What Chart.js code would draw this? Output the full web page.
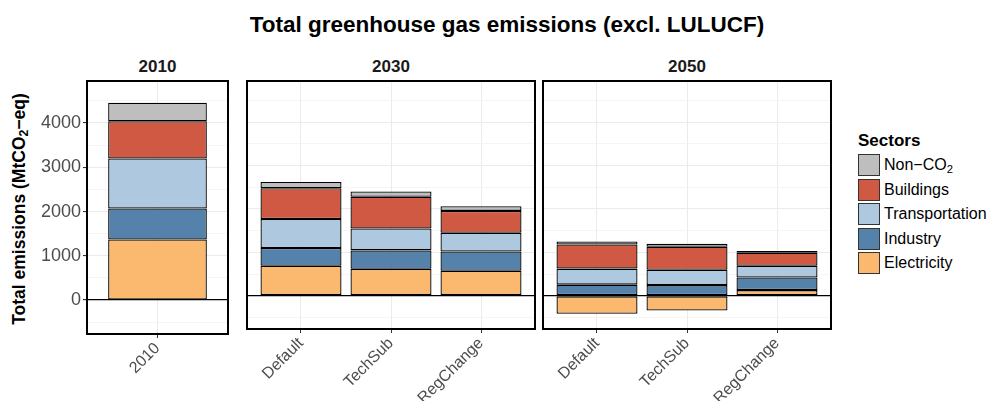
<!DOCTYPE html>
<html>
<head>
<meta charset="utf-8">
<script src="https://cdn.jsdelivr.net/npm/chart.js@4.4.1/dist/chart.umd.min.js"></script>
<style>
  body { margin: 0; background: #fff; font-family: "Liberation Sans", Arial, sans-serif; }
  #wrap { position: relative; width: 992px; height: 401px; overflow: hidden; }
  .box { position: absolute; }
  .title { position: absolute; left: 0; width: 1014px; top: 12px; text-align: center; font-weight: bold; font-size: 22.5px; color: #000; }
  .strip { position: absolute; top: 57px; font-weight: bold; font-size: 17px; color: #1a1a1a; text-align: center; }
  .ytitle { position: absolute; left: 19px; top: 209px; transform: translate(-50%, -50%) rotate(-90deg); white-space: nowrap; font-weight: bold; font-size: 17.5px; }
  .legend { position: absolute; left: 858px; top: 131px; font-size: 16px; }
  .legend .lt { font-weight: bold; font-size: 17px; margin-bottom: 2px; }
  .legend .row { height: 24.5px; display: flex; align-items: center; }
  .legend .key { width: 20px; height: 20px; border: 1px solid #333; margin-right: 4px; }
  sub { font-size: 70%; vertical-align: -3px; line-height: 0; }
</style>
</head>
<body>
<div id="wrap">
  <div class="title">Total greenhouse gas emissions (excl. LULUCF)</div>
  <div class="strip" style="left:87px;width:141px">2010</div>
  <div class="strip" style="left:247px;width:288px">2030</div>
  <div class="strip" style="left:543px;width:288px">2050</div>
  <div class="ytitle">Total emissions (MtCO<sub>2</sub>−eq)</div>
  <div class="box" style="left:30px;top:76px;width:202px;height:325px"><canvas id="c2010"></canvas></div>
  <div class="box" style="left:243px;top:76px;width:296px;height:325px"><canvas id="c2030"></canvas></div>
  <div class="box" style="left:539px;top:76px;width:296px;height:325px"><canvas id="c2050"></canvas></div>
  <div class="legend" id="legend"><div class="lt">Sectors</div></div>
</div>
<script>
// sectors, stacked bottom to top
const sectors = ["Electricity", "Industry", "Transportation", "Buildings", "Non-CO2"];
const sectorColors = ["#FBB86F", "#5582AA", "#ADC8DF", "#CF5942", "#BEBEBE"];

const cats2010 = ["2010"];
const vals2010 = {
  "Electricity": [1370],
  "Industry": [700],
  "Transportation": [1130],
  "Buildings": [840],
  "Non-CO2": [420]
};

const scenarios = ["Default", "TechSub", "RegChange"];
const vals2030 = {
  "Electricity": [690, 620, 575],
  "Industry": [410, 425, 445],
  "Transportation": [670, 505, 430],
  "Buildings": [710, 730, 505],
  "Non-CO2": [140, 125, 110]
};
const vals2050 = {
  "Electricity": [-415, -340, 130],
  "Industry": [255, 245, 290],
  "Transportation": [370, 355, 270],
  "Buildings": [555, 530, 300],
  "Non-CO2": [70, 70, 40]
};

const yTicks = [0, 1000, 2000, 3000, 4000];
const yMinor = [-500, 500, 1500, 2500, 3500, 4500];
const yMin = -767, yMax = 4950;

// legend (top to bottom is reverse stack order)
const legendNames = { "Non-CO2": "Non−CO<sub>2</sub>" };
const lg = document.getElementById("legend");
for (let i = sectors.length - 1; i >= 0; i--) {
  const r = document.createElement("div");
  r.className = "row";
  r.innerHTML = '<div class="key" style="background:' + sectorColors[i] + '"></div><span>' +
    (legendNames[sectors[i]] || sectors[i]) + '</span>';
  lg.appendChild(r);
}

const frame = {
  id: "frame",
  afterDraw(chart) {
    const a = chart.chartArea, ctx = chart.ctx;
    ctx.save();
    ctx.strokeStyle = "#000";
    ctx.lineWidth = 2;
    ctx.strokeRect(a.left, a.top, a.right - a.left, a.bottom - a.top);
    ctx.restore();
  }
};

const isMajor = v => yTicks.includes(v);
const noPad = s => { s.paddingTop = 0; s.paddingBottom = 0; s.paddingLeft = 0; s.paddingRight = 0; };

function makePanel(id, cats, vals, showY, xHeight, barPct) {
  const datasets = sectors.map((s, i) => ({
    label: s,
    data: vals[s].map((v, j) => ({ x: j + 1, y: v })),
    backgroundColor: sectorColors[i],
    borderColor: "#000",
    borderWidth: 1.3,
    borderSkipped: false,
    barPercentage: barPct,
    categoryPercentage: 1
  }));
  const n = cats.length;
  return new Chart(document.getElementById(id), {
    type: "bar",
    data: { datasets },
    plugins: [frame],
    options: {
      responsive: true,
      maintainAspectRatio: false,
      animation: false,
      layout: { padding: { top: 5, right: 4, left: showY ? 0 : 4 } },
      plugins: { legend: { display: false }, tooltip: { enabled: false } },
      scales: {
        x: {
          type: "linear",
          stacked: true,
          offset: false,
          min: n === 1 ? 0.5 : 0.4,
          max: n === 1 ? 1.5 : n + 0.6,
          afterBuildTicks: s => { s.ticks = cats.map((c, j) => ({ value: j + 1 })); },
          afterFit: s => { s.height = xHeight; noPad(s); },
          ticks: {
            autoSkip: false,
            callback: v => cats[Math.round(v) - 1],
            minRotation: 45, maxRotation: 45,
            color: "#4D4D4D",
            font: { size: 16, family: "'Liberation Sans', Arial, sans-serif" },
            padding: 1
          },
          grid: { offset: false, color: "#EBEBEB", lineWidth: 1, tickColor: "#333", tickLength: 4 },
          border: { display: false }
        },
        y: {
          stacked: true,
          min: yMin, max: yMax,
          afterBuildTicks: s => {
            s.ticks = yMinor.concat(yTicks).sort((a, b) => a - b).map(v => ({ value: v }));
          },
          ticks: {
            display: showY,
            autoSkip: false,
            callback: v => (isMajor(v) ? String(v) : ""),
            color: "#4D4D4D",
            font: { size: 18, family: "'Liberation Sans', Arial, sans-serif" },
            padding: 2
          },
          afterFit: s => { s.width = showY ? 57 : 0; noPad(s); },
          grid: {
            drawTicks: showY,
            tickLength: 4,
            color: c => c.tick.value === 0 ? "#000" : (isMajor(c.tick.value) ? "#EBEBEB" : "#F3F3F3"),
            lineWidth: c => c.tick.value === 0 ? 1.2 : (isMajor(c.tick.value) ? 1.1 : 0.8),
            tickColor: c => isMajor(c.tick.value) ? "#333" : "rgba(0,0,0,0)"
          },
          border: { display: false }
        }
      }
    }
  });
}

makePanel("c2010", cats2010, vals2010, true, 67, 0.70);
makePanel("c2030", scenarios, vals2030, false, 72, 0.9);
makePanel("c2050", scenarios, vals2050, false, 72, 0.9);
</script>
</body>
</html>
